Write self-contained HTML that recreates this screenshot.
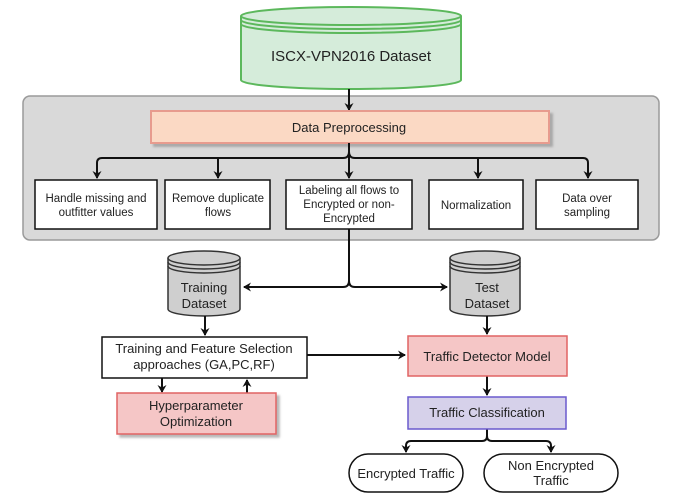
<!DOCTYPE html>
<html><head><meta charset="utf-8"><style>
html,body{margin:0;padding:0;background:#fff;}
svg{display:block;font-family:"Liberation Sans",sans-serif;}
</style></head><body>
<svg width="679" height="499" viewBox="0 0 679 499" xmlns="http://www.w3.org/2000/svg">
<defs>
<marker id="a" markerWidth="10" markerHeight="10" refX="7" refY="5" orient="auto" markerUnits="userSpaceOnUse">
<path d="M0,0.5 L8,5 L0,9.5 L2.5,5 Z" fill="#111"/></marker>
<filter id="s" x="-10%" y="-10%" width="130%" height="140%"><feDropShadow dx="3" dy="3" stdDeviation="1" flood-color="#888" flood-opacity="0.6"/></filter>
</defs>
<!-- top cylinder -->
<g stroke="#5cb85c" stroke-width="2" fill="#d5ecda">
<path d="M241,16 L241,80 A110,9 0 0 0 461,80 L461,16"/>
<ellipse cx="351" cy="16" rx="110" ry="9"/>
<path d="M241,20 A110,9 0 0 0 461,20" fill="none"/>
<path d="M241,24 A110,9 0 0 0 461,24" fill="none"/>
</g>
<text x="351" y="61" font-size="15" text-anchor="middle" fill="#222">ISCX-VPN2016 Dataset</text>
<!-- gray panel -->
<rect x="23" y="96" width="636" height="144" rx="7" fill="#d9d9d9" stroke="#9a9a9a" stroke-width="1.5"/>
<line x1="349" y1="89" x2="349" y2="110" stroke="#111" stroke-width="2" marker-end="url(#a)"/>
<rect x="151" y="111" width="398" height="32" fill="#fbd9c4" stroke="#e79b8e" stroke-width="2" filter="url(#s)"/>
<text x="349" y="132" font-size="13" text-anchor="middle" fill="#222">Data Preprocessing</text>
<g stroke="#111" stroke-width="2" fill="none">
<line x1="349" y1="143" x2="349" y2="178" marker-end="url(#a)"/>
<path d="M349,152 Q349,158 343,158 L102,158 Q97,158 97,163 L97,178" marker-end="url(#a)"/>
<path d="M218,158 L218,178" marker-end="url(#a)"/>
<path d="M349,152 Q349,158 355,158 L583,158 Q588,158 588,163 L588,178" marker-end="url(#a)"/>
<path d="M478,158 L478,178" marker-end="url(#a)"/>
</g>
<g fill="#fff" stroke="#111" stroke-width="1.5">
<rect x="35" y="180" width="122" height="49"/>
<rect x="165" y="180" width="105" height="49"/>
<rect x="286" y="180" width="126" height="49"/>
<rect x="429" y="180" width="94" height="49"/>
<rect x="536" y="180" width="102" height="49"/>
</g>
<g font-size="11.5" text-anchor="middle" fill="#222">
<text x="96" y="202">Handle missing and</text><text x="96" y="216">outfitter values</text>
<text x="218" y="202">Remove duplicate</text><text x="218" y="216">flows</text>
<text x="349" y="194">Labeling all flows to</text><text x="349" y="208">Encrypted or non-</text><text x="349" y="222">Encrypted</text>
<text x="476" y="209">Normalization</text>
<text x="587" y="202">Data over</text><text x="587" y="216">sampling</text>
</g>
<!-- split -->
<g stroke="#111" stroke-width="2" fill="none">
<path d="M349,229 L349,281 Q349,287 343,287 L244,287" marker-end="url(#a)"/>
<path d="M349,281 Q349,287 355,287 L447,287" marker-end="url(#a)"/>
</g>
<!-- small cylinders -->
<g stroke="#333" stroke-width="1.5" fill="#cfcfcf">
<path d="M168,258 L168,309 A36,7 0 0 0 240,309 L240,258"/>
<ellipse cx="204" cy="258" rx="36" ry="7"/>
<path d="M168,262 A36,7 0 0 0 240,262 M168,266 A36,7 0 0 0 240,266" fill="none"/>
<path d="M450,258 L450,309 A35,7 0 0 0 520,309 L520,258"/>
<ellipse cx="485" cy="258" rx="35" ry="7"/>
<path d="M450,262 A35,7 0 0 0 520,262 M450,266 A35,7 0 0 0 520,266" fill="none"/>
</g>
<g font-size="13" text-anchor="middle" fill="#222">
<text x="204" y="292">Training</text><text x="204" y="308">Dataset</text>
<text x="487" y="292">Test</text><text x="487" y="308">Dataset</text>
</g>
<g stroke="#111" stroke-width="2" fill="none">
<line x1="205" y1="316" x2="205" y2="335" marker-end="url(#a)"/>
<line x1="487" y1="316" x2="487" y2="334" marker-end="url(#a)"/>
<line x1="307" y1="355" x2="405" y2="355" marker-end="url(#a)"/>
<line x1="162" y1="378" x2="162" y2="392" marker-end="url(#a)"/>
<line x1="247" y1="393" x2="247" y2="380" marker-end="url(#a)"/>
<line x1="487" y1="376" x2="487" y2="395" marker-end="url(#a)"/>
<path d="M487,429 L487,436 Q487,441 482,441 L411,441 Q406,441 406,446 L406,452" marker-end="url(#a)"/>
<path d="M487,436 Q487,441 492,441 L546,441 Q551,441 551,446 L551,452"  marker-end="url(#a)"/>
</g>
<rect x="102" y="337" width="205" height="41" fill="#fff" stroke="#111" stroke-width="1.5"/>
<text x="204" y="353" font-size="13" text-anchor="middle" fill="#222">Training and Feature Selection</text>
<text x="204" y="369" font-size="13" text-anchor="middle" fill="#222">approaches (GA,PC,RF)</text>
<rect x="117" y="393" width="159" height="41" fill="#f5c6c6" stroke="#e06464" stroke-width="1.5" filter="url(#s)"/>
<text x="196" y="410" font-size="13" text-anchor="middle" fill="#222">Hyperparameter</text>
<text x="196" y="426" font-size="13" text-anchor="middle" fill="#222">Optimization</text>
<rect x="408" y="336" width="159" height="40" fill="#f5c6c6" stroke="#e06464" stroke-width="1.5"/>
<text x="487" y="361" font-size="13" text-anchor="middle" fill="#222">Traffic Detector Model</text>
<rect x="408" y="397" width="158" height="32" fill="#d6d1ea" stroke="#6a5acd" stroke-width="1.5"/>
<text x="487" y="417" font-size="13" text-anchor="middle" fill="#222">Traffic Classification</text>
<rect x="349" y="454" width="114" height="38" rx="19" fill="#fff" stroke="#111" stroke-width="1.5"/>
<text x="406" y="478" font-size="13" text-anchor="middle" fill="#222">Encrypted Traffic</text>
<rect x="484" y="454" width="134" height="38" rx="19" fill="#fff" stroke="#111" stroke-width="1.5"/>
<text x="551" y="470" font-size="13" text-anchor="middle" fill="#222">Non Encrypted</text>
<text x="551" y="485" font-size="13" text-anchor="middle" fill="#222">Traffic</text>
</svg>
</body></html>
